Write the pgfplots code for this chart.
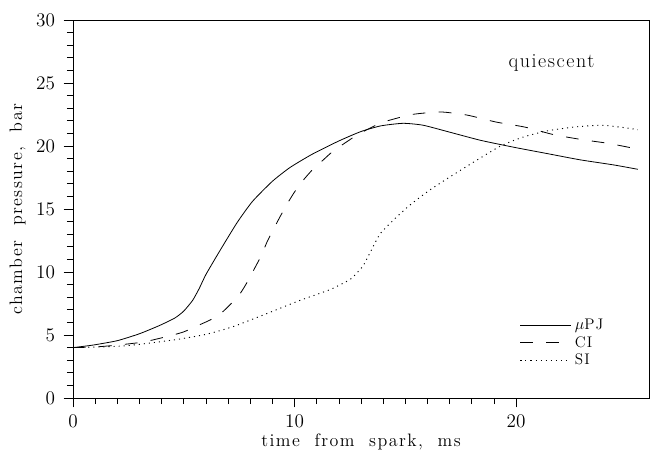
\documentclass[border=0pt]{standalone}
\usepackage{fontspec}
\setmainfont{Latin Modern Roman}
\newfontfamily\widefont{Latin Modern Roman}[LetterSpace=8]
\usepackage{pgfplots}
\pgfplotsset{compat=1.18}
\begin{document}
\begin{tikzpicture}
\useasboundingbox (-54.75pt,-39pt) rectangle (437.25pt,298.5pt);
\begin{axis}[
  scale only axis,
  width=432pt, height=283.5pt,
  xmin=0, xmax=26, ymin=0, ymax=30,
  xtick={0,10,20}, ytick={0,5,10,15,20,25,30},
  minor x tick num=9, minor y tick num=4,
  tick pos=left, tick align=outside,
  major tick length=7pt, minor tick length=4.5pt,
  every tick/.style={black, line width=0.5pt},
  axis line style={line width=0.6pt},
  xlabel={time\ \ from\ \ spark,\ \ ms},
  ylabel={chamber\ \ pressure,\ \ bar},
  label style={font=\widefont\fontsize{13.5}{15}\selectfont},
  xlabel style={yshift=2pt},
  ylabel style={yshift=1pt},
  tick label style={font=\fontsize{14}{16}\selectfont},
  xticklabel style={yshift=-2pt},
  yticklabel style={xshift=-3pt},
  legend style={draw=none, fill=none, at={(rel axis cs:0.926,0.075)}, anchor=south east,
    font=\widefont\fontsize{11.5}{12}\selectfont, row sep=-0.5pt, inner sep=0pt,
    /tikz/every odd column/.append style={column sep=1pt}},
  legend cell align=left,
  legend image post style={xscale=2.2},
]
\addplot[black, line width=0.6pt, smooth, tension=0.35] coordinates {
(0,4.0) (0.9,4.2) (2.0,4.55) (3.0,5.1) (3.9,5.75) (4.6,6.35) (5.0,6.9) (5.4,7.75) (5.7,8.7) (6.0,9.8) (6.6,11.6) (7.4,13.9) (8.1,15.6) (9.0,17.2) (9.8,18.3) (10.8,19.35) (12.0,20.4) (13.0,21.15) (13.9,21.6) (14.9,21.8) (15.8,21.65) (17.0,21.1) (18.4,20.45) (19.9,19.9) (21.4,19.4) (22.9,18.9) (24.4,18.5) (25.5,18.15)
};
\addlegendentry{$\mu$PJ}
\addplot[black, line width=0.6pt, dash pattern=on 9.5pt off 10pt, smooth, tension=0.35] coordinates {
(0,4.0) (1.0,4.05) (2.0,4.2) (3.2,4.45) (4.4,4.95) (5.0,5.25) (5.7,5.8) (6.2,6.2) (6.7,6.75) (7.2,7.6) (7.55,8.3) (7.9,9.3) (8.2,10.3) (8.5,11.3) (8.75,12.35) (9.05,13.4) (9.35,14.4) (9.7,15.5) (10.0,16.35) (10.4,17.3) (10.8,18.1) (11.3,18.9) (11.75,19.6) (12.8,20.85) (13.5,21.5) (14.0,21.9) (15.3,22.5) (16.6,22.7) (17.8,22.45) (19.1,21.9) (20.4,21.5) (21.7,20.9) (23.0,20.5) (24.2,20.2) (25.5,19.75)
};
\addlegendentry{CI}
\addplot[black, line width=0.7pt, dash pattern=on 0.8pt off 3pt, smooth, tension=0.35] coordinates {
(0,4.0) (2.0,4.1) (3.2,4.3) (4.7,4.65) (6.0,5.05) (7.2,5.65) (8.75,6.7) (10.25,7.75) (11.6,8.6) (12.5,9.4) (12.8,9.9) (13.1,10.5) (13.4,11.5) (13.85,13.0) (14.45,14.1) (15.2,15.3) (16.1,16.5) (17.15,17.7) (18.25,18.9) (19.3,20.0) (20.3,20.7) (21.4,21.2) (22.6,21.5) (23.8,21.65) (24.7,21.5) (25.5,21.3)
};
\addlegendentry{SI}
\node[font=\widefont\fontsize{15}{17}\selectfont] at (axis cs:21.6,26.6) {quiescent};
\end{axis}
\end{tikzpicture}
\end{document}
